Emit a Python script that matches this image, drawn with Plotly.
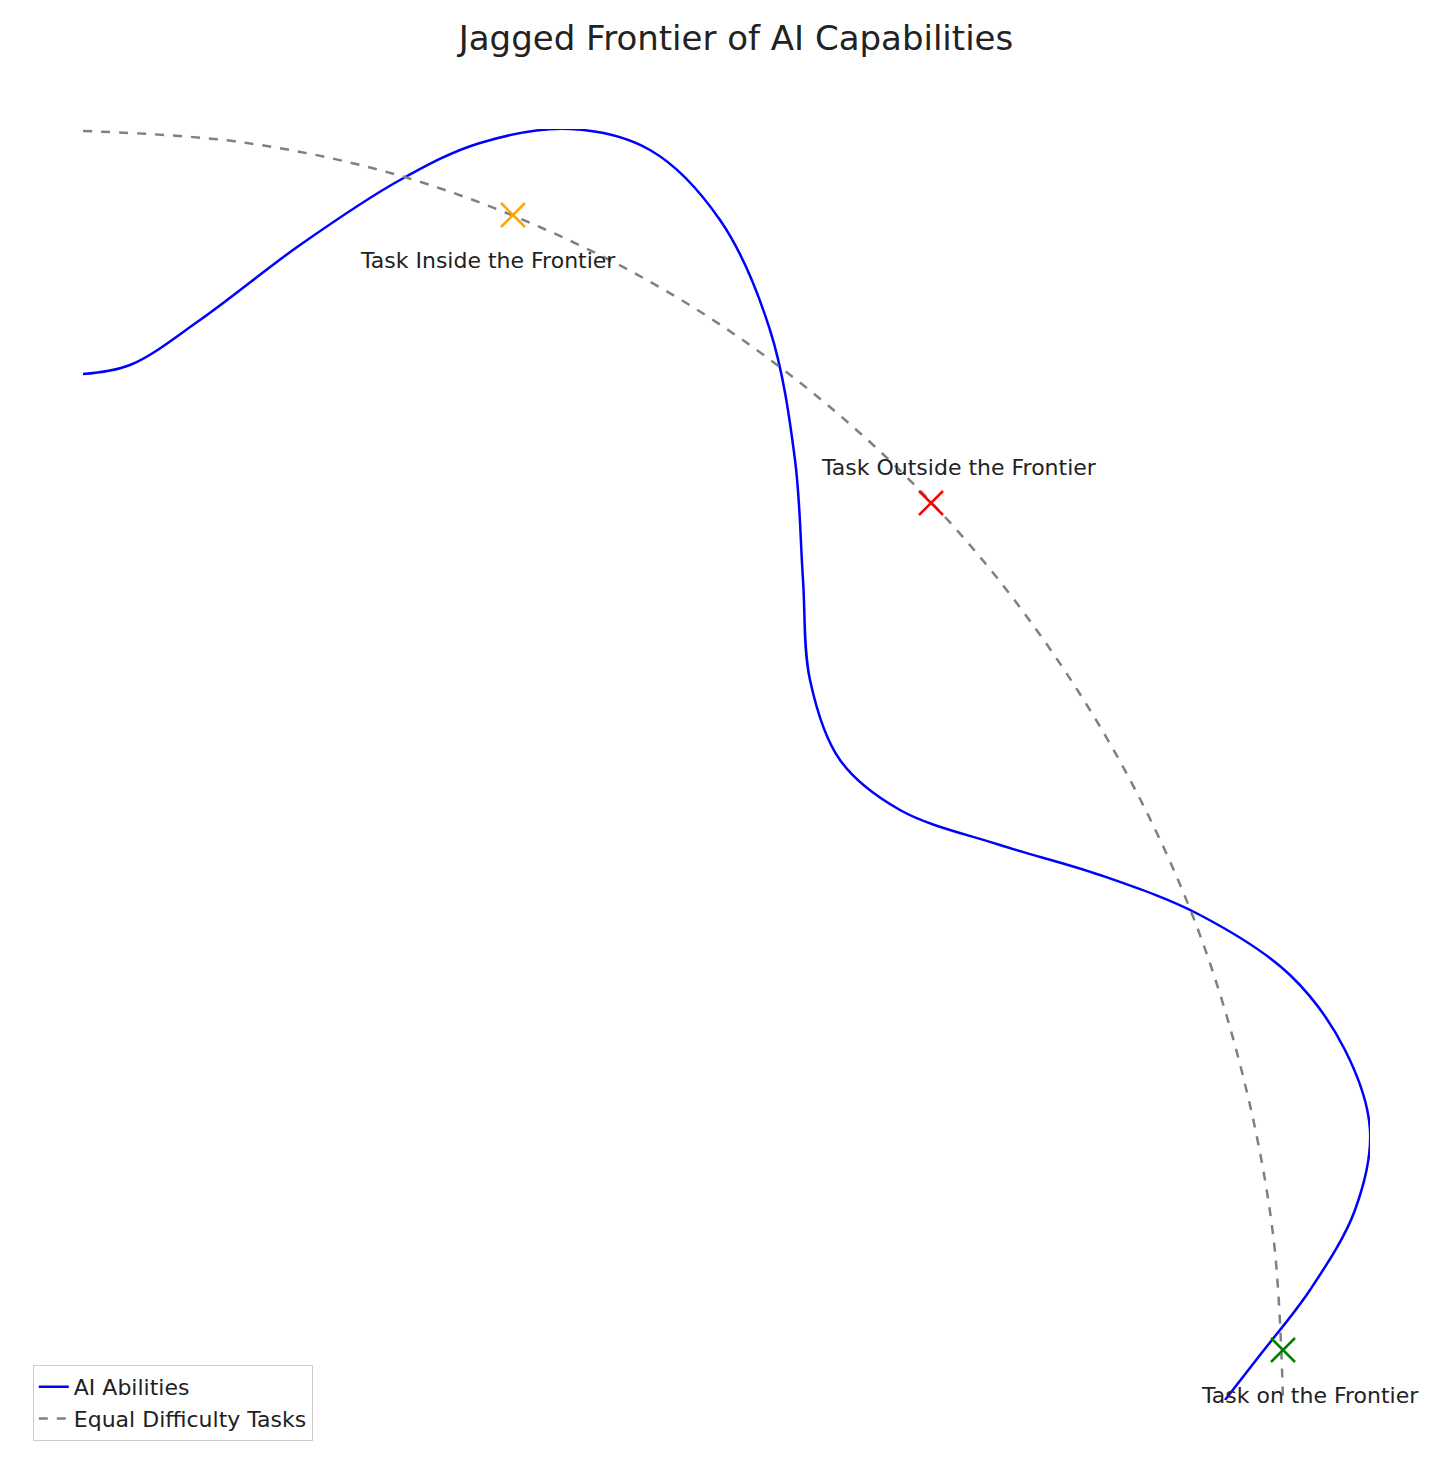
import plotly.graph_objects as go

# data units (arbitrary): x to the right, y upward
ai_x = [0, 47, 117, 217, 317, 397, 487, 567, 637, 687, 712, 720, 727, 757, 817, 917, 1017, 1117, 1207, 1262, 1287, 1272, 1227, 1177, 1142]
ai_y = [1026, 1035, 1080, 1155, 1220, 1257, 1271, 1250, 1180, 1070, 940, 820, 720, 640, 590, 555, 525, 485, 425, 350, 270, 190, 110, 45, 0]

eq_x = [0, 157, 311, 459, 600, 730, 849, 950, 1039, 1109, 1159, 1190, 1200]
eq_y = [1269, 1258, 1226, 1172, 1099, 1007, 897, 775, 635, 486, 328, 166, 0]

task_names = ["Task Inside the Frontier", "Task Outside the Frontier", "Task on the Frontier"]
task_x = [430, 848, 1200]
task_y = [1185, 897, 50]
task_colors = ["orange", "red", "green"]
label_dy = [-45, 36, -45]
label_dx = [-25, 28, 27]

fig = go.Figure()
fig.add_trace(go.Scatter(x=ai_x, y=ai_y, mode="lines", name="AI Abilities",
                         line=dict(color="blue", width=2.5, shape="spline", smoothing=1.0)))
fig.add_trace(go.Scatter(x=eq_x, y=eq_y, mode="lines", name="Equal Difficulty Tasks",
                         line=dict(color="gray", width=2.5, dash="dash", shape="spline")))
for n, x, y, c, d, dx in zip(task_names, task_x, task_y, task_colors, label_dy, label_dx):
    fig.add_trace(go.Scatter(x=[x], y=[y], mode="markers", showlegend=False,
                             marker=dict(symbol="x-thin", size=24, line=dict(color=c, width=2.5))))
    fig.add_annotation(x=x, y=y + d, text=n, showarrow=False, xshift=dx,
                       font=dict(size=22, color="#222"))

fig.update_layout(
    width=1456, height=1483,
    margin=dict(l=75, r=94, t=121, b=91),
    plot_bgcolor="white", paper_bgcolor="white",
    font=dict(family="DejaVu Sans"),
    title=dict(text="Jagged Frontier of AI Capabilities", x=0.5, xanchor="center",
               y=1 - 30 / 1483, yanchor="middle", font=dict(size=34, color="#222")),
    xaxis=dict(range=[0, 1287], visible=False),
    yaxis=dict(range=[0, 1271], visible=False),
    legend=dict(x=-0.039, y=0.0275, xanchor="left", yanchor="top",
                font=dict(size=22, color="#222"),
                bordercolor="#ccc", borderwidth=1, bgcolor="white"),
)
fig.write_html("out.html")
